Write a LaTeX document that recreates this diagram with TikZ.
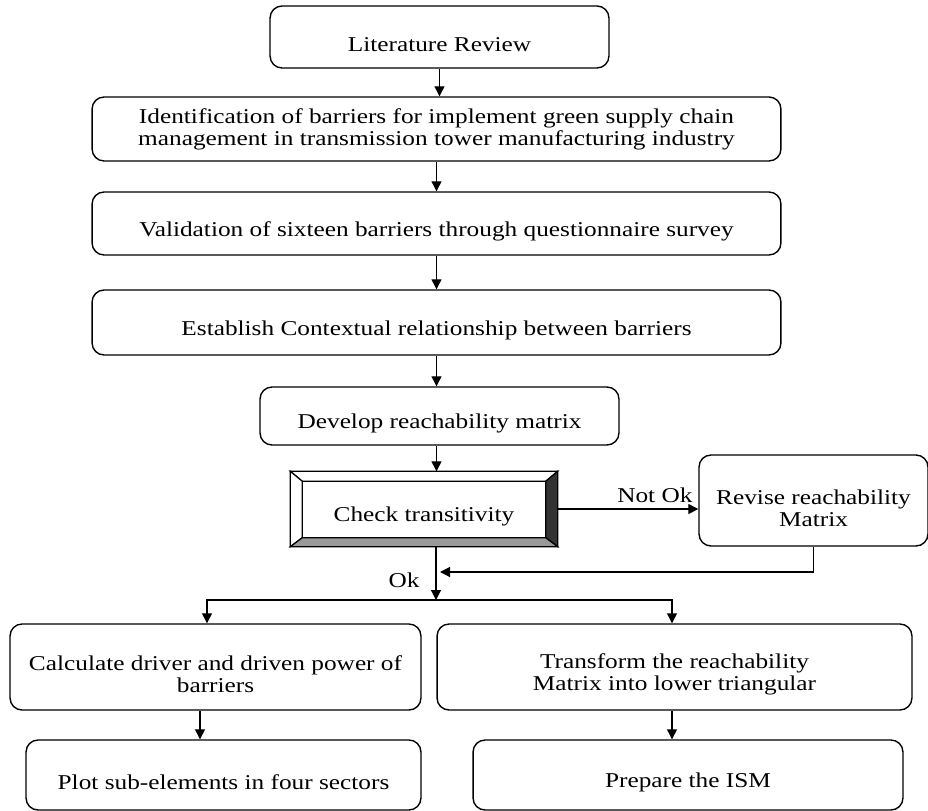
\documentclass[tikz,border=0pt]{standalone}
\usepackage{fontspec}
\setmainfont[FakeStretch=1.2]{Liberation Serif}
\usepackage{tikz}
\usetikzlibrary{positioning}
\usetikzlibrary{arrows.meta,calc}

\newcommand{\lowered}{\rule{0pt}{17pt}}

\tikzset{
    stage/.style={draw, rounded corners=0.24cm, line width=0.8pt, align=center, inner sep=0pt},
}

\begin{document}
\begin{tikzpicture}[x=0.02cm, y=-0.02cm, >={Triangle[length=0.2cm,width=0.2cm]}, line width=0.7pt,
        font=\fontsize{12}{12.5}\selectfont]

        \useasboundingbox (0,0) rectangle (928,810);

        \node[stage, minimum width=6.78cm, minimum height=1.24cm] (lit) at (439.5,37) {\lowered Literature Review};
        \node[stage, minimum width=13.78cm, minimum height=1.28cm] (ident) at (436.5,129) {Identification of barriers for implement green supply chain\\management in transmission tower manufacturing industry};
        \node[stage, minimum width=13.78cm, minimum height=1.26cm] (valid) at (436.5,223.5) {\lowered Validation of sixteen barriers through questionnaire survey};
        \node[stage, minimum width=13.78cm, minimum height=1.3cm] (estab) at (436.5,322.5) {\lowered Establish Contextual relationship between barriers};
        \node[stage, minimum width=7.18cm, minimum height=1.16cm] (develop) at (439.5,416) {\lowered Develop reachability matrix};

        % bevelled box
        \node[draw, line width=0.8pt, minimum width=5.32cm, minimum height=1.48cm] (check) at (424,509) {\lowered Check transitivity};
        \coordinate (inw) at ($(check.north west)+(12,10)$);
        \coordinate (ine) at ($(check.north east)+(-12,10)$);
        \coordinate (isw) at ($(check.south west)+(12,-9)$);
        \coordinate (ise) at ($(check.south east)+(-12,-9)$);
        \filldraw [fill=white, draw=black] (check.north west) -- (check.north east) -- (ine) -- (inw) -- cycle;
        \filldraw [fill=white, draw=black] (check.north west) -- (inw) -- (isw) -- (check.south west) -- cycle;
        \filldraw [fill=black!80, draw=black] (check.north east) -- (check.south east) -- (ise) -- (ine) -- cycle;
        \filldraw [fill=black!40, draw=black] (check.south west) -- (check.south east) -- (ise) -- (isw) -- cycle;

        \node[stage, minimum width=4.58cm, minimum height=1.82cm] (revise) at (813.5,500.5) {\lowered Revise reachability\\Matrix};

        \node[stage, minimum width=8.22cm, minimum height=1.72cm] (calc) at (215.5,667) {\lowered Calculate driver and driven power of\\barriers};
        \node[stage, minimum width=9.5cm, minimum height=1.72cm] (transform) at (674.5,667) {\lowered Transform the reachability\\Matrix into lower triangular};
        \node[stage, minimum width=7.9cm, minimum height=1.4cm] (plot) at (223.5,775) {\lowered Plot sub-elements in four sectors};
        \node[stage, minimum width=8.6cm, minimum height=1.4cm] (prepare) at (688,775) {\lowered Prepare the ISM};

        \coordinate (split) at (436,600);
        \coordinate (merge) at (440,572);

        \draw [->] (lit.south) -- (lit.south |- ident.north);
        \draw [->] (ident.south) -- (valid.north);
        \draw [->] (valid.south) -- (estab.north);
        \draw [->] (estab.south) -- (estab.south |- develop.north);
        \draw [->] (estab.south |- develop.south) -- (estab.south |- check.north);
        \draw [->] (check.east) -- node[pos=1, above left, inner sep=3pt] (notok) {Not Ok} (check.east -| revise.west);
        \draw [->] (revise.south) |- (merge);
        \draw [->] (check.south -| split) -- node[pos=0.63, left, inner sep=9pt] (ok) {Ok} (split);
        \draw [->] (split) -| ([xshift=-0.17cm]calc.north);
        \draw [->] (split) -| ([xshift=-0.05cm]transform.north);
        \draw [->] ([xshift=-0.31cm]calc.south) -- ([xshift=-0.31cm]calc.south |- plot.north);
        \draw [->] ([xshift=-0.05cm]transform.south) -- ([xshift=-0.05cm]transform.south |- prepare.north);

\end{tikzpicture}
\end{document}
